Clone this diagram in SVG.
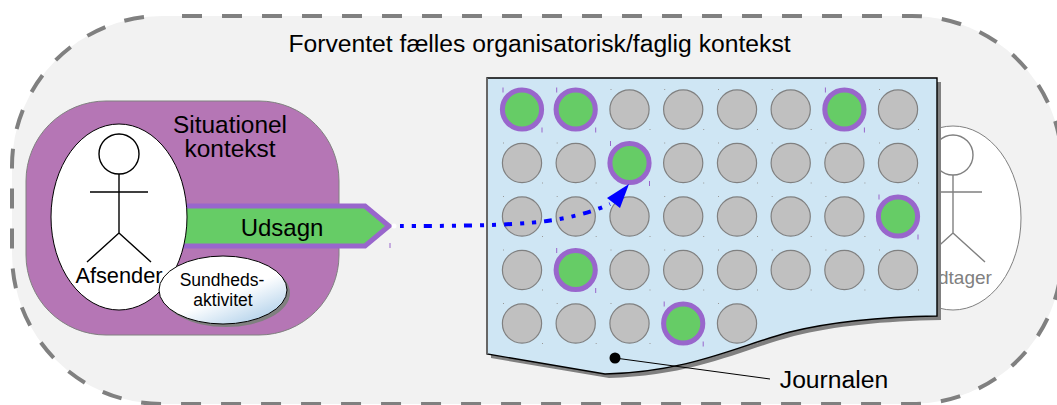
<svg xmlns="http://www.w3.org/2000/svg" xmlns:xlink="http://www.w3.org/1999/xlink" width="1057" height="405" viewBox="0 0 1057 405">
<style>
text{font-family:"Liberation Sans",Arial,sans-serif;fill:#000}
.g{fill:#c0c0c0;stroke:#808080;stroke-width:1.2}
.h{fill:#66cc66;stroke:#9966cc;stroke-width:5}
.fig{fill:none;stroke:#000;stroke-width:1.4}
.figg{fill:none;stroke:#808080;stroke-width:1.4}
.tp{stroke:#9966cc;stroke-width:1;fill:none}
.tg{stroke:#999;stroke-width:1;fill:none}
</style>
<defs>
<linearGradient id="sky" x1="0.25" y1="0.15" x2="0.85" y2="0.95">
<stop offset="0.5" stop-color="#ffffff"/><stop offset="1" stop-color="#b0d0ea"/>
</linearGradient>
<g id="gc"><path class="tg" d="M-19 -20h1M20 20h1"/><circle class="g" r="19.6"/></g>
<g id="hc"><path class="tp" d="M-19 -22v5M20 18v5"/><circle class="h" r="19.6"/></g>
</defs>
<g id="context">
<rect x="12" y="16" width="1050" height="388" rx="150" ry="150" fill="#f2f2f2" stroke="#808080" stroke-width="4" stroke-dasharray="20 20" stroke-dashoffset="20"/>
<text x="539.5" y="52" font-size="24.7" text-anchor="middle">Forventet fælles organisatorisk/faglig kontekst</text>
</g>
<g id="receiver">
<ellipse cx="953" cy="218" rx="68" ry="92" fill="#fff" stroke="#808080" stroke-width="1"/>
<circle class="figg" cx="953" cy="155" r="20"/>
<path class="figg" d="M924 192H982M953 175V233L921 262M953 233L985 262"/>
<text x="938" y="284" font-size="19" style="fill:#808080">dtager</text>
</g>
<g id="situation">
<rect x="26" y="101" width="313" height="234" rx="80" ry="80" fill="#b576b5" stroke="#808080" stroke-width="1"/>
<text x="230" y="133" font-size="24.4" text-anchor="middle">Situationel</text>
<text x="230" y="157" font-size="24.4" text-anchor="middle">kontekst</text>
</g>
<g id="statement">
<path d="M170 206H365L389 226L365 246H170Z" fill="#66cc66" stroke="#9966cc" stroke-width="5"/>
<circle cx="394" cy="226" r="2.5" fill="#fff"/>
<path class="tp" d="M390 243v5"/>
<text x="282" y="236" font-size="24" text-anchor="middle">Udsagn</text>
</g>
<g id="sender">
<ellipse cx="119" cy="217" rx="68" ry="93" fill="#fff" stroke="#000" stroke-width="1"/>
<circle class="fig" cx="119" cy="154" r="20"/>
<path class="fig" d="M90 192H148M119 174V233L87 262M119 233L151 262"/>
<text x="119" y="283" font-size="21.8" text-anchor="middle">Afsender</text>
</g>
<g id="activity">
<ellipse cx="226" cy="293" rx="64" ry="34" fill="#808080"/>
<ellipse cx="223" cy="290" rx="64" ry="34" fill="url(#sky)" stroke="#000" stroke-width="1"/>
<text x="222" y="286" font-size="17.5" text-anchor="middle">Sundheds-</text>
<text x="223" y="306" font-size="17.5" text-anchor="middle">aktivitet</text>
</g>
<g id="journal">
<path d="M491 82H941V320C884 321 834 326 794 336C744 349 694 376 609 378L491 358Z" fill="#808080"/>
<path d="M487 78H937V316C880 317 830 322 790 332C740 345 690 372 605 374L487 354Z" fill="#cfe6f4" stroke="#000" stroke-width="1.4"/>
<path d="M487 78V354" stroke="#666" stroke-width="2" fill="none"/>
</g>
<g id="records">
<use href="#hc" x="522" y="109.5"/><use href="#hc" x="575.7" y="109.5"/><use href="#gc" x="629.5" y="109.5"/><use href="#gc" x="683.2" y="109.5"/><use href="#gc" x="737" y="109.5"/><use href="#gc" x="790.7" y="109.5"/><use href="#hc" x="844.4" y="109.5"/><use href="#gc" x="898" y="109.5"/>
<use href="#gc" x="522" y="163"/><use href="#gc" x="575.7" y="163"/><use href="#hc" x="629.5" y="163"/><use href="#gc" x="683.2" y="163"/><use href="#gc" x="737" y="163"/><use href="#gc" x="790.7" y="163"/><use href="#gc" x="844.4" y="163"/><use href="#gc" x="898" y="163"/>
<use href="#gc" x="522" y="216.5"/><use href="#gc" x="575.7" y="216.5"/><use href="#gc" x="629.5" y="216.5"/><use href="#gc" x="683.2" y="216.5"/><use href="#gc" x="737" y="216.5"/><use href="#gc" x="790.7" y="216.5"/><use href="#gc" x="844.4" y="216.5"/><use href="#hc" x="898" y="216.5"/>
<use href="#gc" x="522" y="270"/><use href="#hc" x="575.7" y="270"/><use href="#gc" x="629.5" y="270"/><use href="#gc" x="683.2" y="270"/><use href="#gc" x="737" y="270"/><use href="#gc" x="790.7" y="270"/><use href="#gc" x="844.4" y="270"/><use href="#gc" x="898" y="270"/>
<use href="#gc" x="522" y="323.5"/><use href="#gc" x="575.7" y="323.5"/><use href="#gc" x="629.5" y="323.5"/><use href="#hc" x="683.2" y="323.5"/><use href="#gc" x="737" y="323.5"/>
</g>
<g id="connectors">
<path d="M400 226C440 226 510 226 547 221C570 218 592 212 610 204" fill="none" stroke="#0000ff" stroke-width="4" stroke-dasharray="4 8 4 8 8 8"/>
<path d="M629 184L607 198L620 208Z" fill="#0000ff"/>
<circle cx="615" cy="358" r="5.5" fill="#000"/>
<path d="M615 358L770 379" stroke="#000" stroke-width="1" fill="none"/>
</g>
<g id="journal-label">
<text x="834" y="388" font-size="24.7" text-anchor="middle">Journalen</text>
</g>
</svg>
